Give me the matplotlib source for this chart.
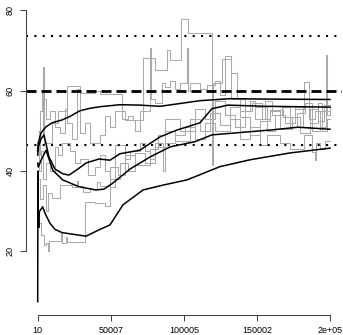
import matplotlib
matplotlib.use("Agg")
import matplotlib.pyplot as plt

plt.rcParams['font.family'] = ['Liberation Sans', 'DejaVu Sans']

# gray step traces (iteration, value)
a_it = [10, 900, 3600, 4000, 9800, 13900, 20000, 28900, 39200, 42600, 57600, 61700, 65100,
        72000, 80200, 88400, 90400, 98000, 102700, 119100, 119800, 126000, 132200, 136200,
        141700, 146500, 153300, 158800, 167700, 175900, 181300, 186100, 191600, 195700, 199800, 200000]
a_val = [50, 48.5, 65.9, 47, 52, 55, 61.2, 59.3, 59.8, 59.2, 53, 53.6, 52.8,
         68, 65.1, 70.1, 67.6, 77.9, 74.3, 41.5, 62, 67.8, 64.3, 58,
         55, 57, 53, 55.3, 53.5, 56, 51, 55.5, 52.5, 56.5, 54, 54]

b_it = [10, 1600, 2900, 4300, 5700, 8400, 11800, 15200, 18700, 20000, 23400, 26900, 28900,
        32300, 35700, 42600, 46000, 49400, 52800, 59700, 66500, 69900, 76800, 77500, 80200,
        85000, 87000, 90400, 93800, 97300, 102000, 102700, 104100, 110900, 115800, 121200,
        124600, 128100, 132200, 138300, 145100, 148500, 156800, 162200, 169000, 175900,
        182000, 185500, 189500, 192900, 197000, 197500, 200000]
b_val = [44, 55, 60, 58, 53, 55, 51, 49.5, 55.5, 52, 48, 60.5, 49.4,
         52, 47, 49, 53.6, 51, 55, 52.8, 50, 55, 70.5, 58, 57,
         62, 61, 62.5, 60.5, 62, 70.6, 60, 61.9, 60.5, 61.5, 62.5,
         59, 68.5, 58, 55, 57.5, 56, 50, 54, 52, 55.5,
         62.1, 53, 55, 51, 68.8, 54, 54]

c_it = [10, 900, 2300, 3600, 5700, 8400, 11800, 13900, 16600, 22100, 25500, 28900, 34400,
        39200, 42600, 46000, 49400, 52800, 59700, 63100, 69900, 73300, 76800, 80200, 85800,
        87000, 93800, 100700, 107500, 114400, 121200, 131400, 138300, 145100, 151900, 156800,
        165600, 172400, 182000, 187500, 189500, 190000, 192900, 196300, 200000]
c_val = [47, 40, 45, 38, 42, 40, 46, 44, 47, 45, 42, 43, 39,
         41, 44, 40, 38, 46.5, 43, 45, 47, 45, 43, 47, 40,
         47, 49, 51, 48, 52, 50, 53, 48, 51, 46.5, 49,
         47, 45.5, 48.9, 44.7, 42.7, 47, 45.5, 47.5, 47.5]

d_it = [10, 900, 2300, 4300, 5700, 7000, 7700, 15900, 16600, 19400, 20000, 32300, 39200,
        46000, 49400, 52800, 56200, 61700, 66500, 73300, 80200, 87000, 93800, 104100, 110900,
        117800, 124600, 131400, 138300, 145100, 151900, 158800, 165600, 173800, 179300,
        186100, 191600, 194300, 197700, 200000]
d_val = [30, 27, 24, 21.6, 22.1, 20.1, 22.5, 24.8, 22.2, 23.5, 22.4, 32.3, 32,
         31.2, 36, 38, 42, 40, 44.5, 42, 46, 50, 47.5, 53, 50,
         54.5, 51.5, 56, 53.5, 49, 52.5, 55, 50.5, 53.5, 49.5,
         52, 57, 50, 53, 53]

e_it = [10, 1600, 3600, 5700, 7000, 9800, 15200, 23400, 26900, 27600, 31000, 35700, 40500,
        42600, 49400, 54900, 59700, 66500, 76800, 82200, 87000, 97300, 107500, 114400,
        121200, 128100, 134900, 141700, 148500, 155400, 160100, 167000, 172400, 177200,
        182700, 187500, 192900, 200000]
e_val = [38, 33, 36.5, 30, 34.5, 33.2, 36.5, 36, 37.5, 36.3, 34.8, 35.5, 37.2,
         36.3, 41, 39, 44, 41.5, 45.5, 49, 53, 50, 55.5, 53,
         57.5, 54, 51, 56.5, 53, 57.5, 54, 56, 51, 54.5,
         57, 50, 55, 55]

# black smooth curves
k1_it = [10, 400, 2300, 5700, 9800, 16600, 22100, 28900, 35700, 42600, 56200, 69900, 83600,
         97300, 110900, 131400, 155400, 199800]
k1_val = [45, 47, 49.5, 51, 52, 52.7, 53.6, 55, 55.6, 56, 56.5, 56.4, 56.1,
          56.8, 57.5, 58, 57.9, 57.8]

k2_it = [10, 400, 2300, 4300, 7700, 11800, 17300, 21400, 27500, 33000, 41900, 49400, 56200,
         69900, 83600, 95200, 110900, 119100, 130000, 155400, 199800]
k2_val = [44, 46, 48, 49, 43.5, 40.5, 39.3, 39, 40.5, 42, 43, 42.7, 44.3,
          45.2, 48.5, 50.2, 52, 55.5, 56.4, 56.1, 55.9]

k3_it = [10, 400, 2300, 5700, 10300, 17100, 28200, 39800, 45300, 51300, 63100, 76800, 90400,
         107500, 119100, 158800, 178000, 199800]
k3_val = [42, 41, 42.7, 45.2, 40.2, 37.8, 36.1, 35.3, 35.5, 37, 40.5, 43.5, 46,
          47.3, 49, 50.2, 50.9, 50.4]

k4_it = [10, 150, 400, 900, 1100, 3400, 5000, 8400, 11800, 16600, 25500, 33000, 42600, 49400,
         58300, 72000, 85600, 102000, 108900, 124600, 145100, 172400, 199800]
k4_val = [7.5, 40, 27, 26, 29.9, 31.1, 29.5, 27, 25.5, 24.7, 24.2, 23.8, 25.5, 26.6,
          31.6, 35.3, 36.5, 37.8, 38.8, 41.1, 42.8, 44.5, 45.7]

ref_lines = [73.5, 46.5]
true_line = 60
xticks = [10, 50007, 100005, 150002, 200000]
xlabels = ['10', '50007', '100005', '150002', '2e+05']
yticks = [20, 40, 60, 80]

fig = plt.figure(figsize=(3.43, 3.35), dpi=100)
ax = fig.add_axes([26 / 343, 20 / 335, 316 / 343, 308 / 335])

gray = '#aaaaaa'
for it, val in [(a_it, a_val), (b_it, b_val), (c_it, c_val), (d_it, d_val), (e_it, e_val)]:
    ax.step(it, val, where='post', color=gray, lw=0.75)

for it, val in [(k1_it, k1_val), (k2_it, k2_val), (k3_it, k3_val), (k4_it, k4_val)]:
    ax.plot(it, val, color='black', lw=1.1)

for y in ref_lines:
    ax.axhline(y, color='black', lw=1.5, linestyle=(0, (1, 3)))
ax.axhline(true_line, color='black', lw=2.0, linestyle=(0, (3.6, 1.8)))

ax.set_xlim(-7990, 207990)
ax.set_ylim(4.2, 80.8)

for s in ['top', 'right']:
    ax.spines[s].set_visible(False)
ax.spines['left'].set_bounds(20, 80)
ax.spines['bottom'].set_bounds(10, 200000)
for s in ['left', 'bottom']:
    ax.spines[s].set_color('#444444')
    ax.spines[s].set_linewidth(0.75)

ax.set_xticks(xticks)
ax.set_xticklabels(xlabels)
ax.set_yticks(yticks)
ax.set_yticklabels([str(v) for v in yticks], rotation=90, va='center')
ax.tick_params(length=4, width=0.75, color='#444444', labelsize=6.5, pad=4)

fig.savefig('out.png', dpi=100)
